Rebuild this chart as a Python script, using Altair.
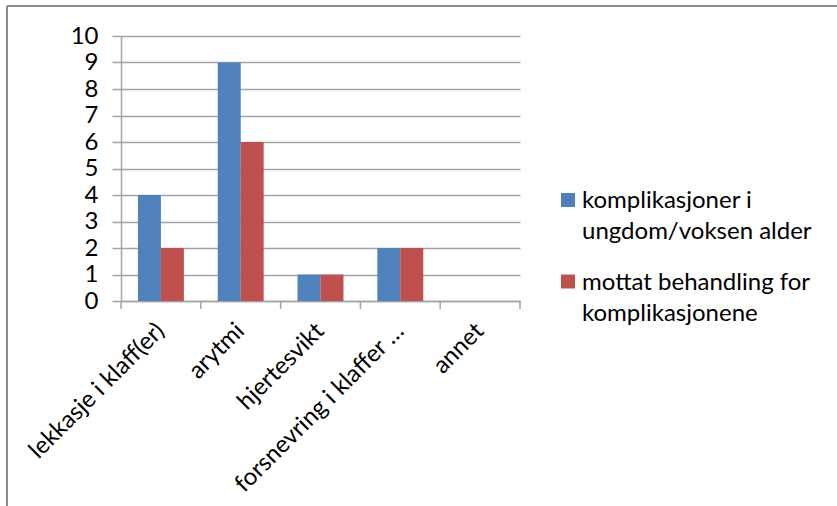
import altair as alt
import pandas as pd

categories = ["lekkasje i klaff(er)", "arytmi", "hjertesvikt", "forsnevring i klaffer …", "annet"]
series = ["komplikasjoner i|ungdom/voksen alder", "mottat behandling for|komplikasjonene"]
complications = [4, 9, 1, 2, 0]
treated = [2, 6, 1, 2, 0]
colors = ["#4F81BD", "#C0504D"]
y_ticks = list(range(0, 11))

rows = []
for c, a, b in zip(categories, complications, treated):
    rows.append({"kategori": c, "serie": series[0], "verdi": a})
    rows.append({"kategori": c, "serie": series[1], "verdi": b})
df = pd.DataFrame(rows)
cat_df = pd.DataFrame({"kategori": categories})

FONT = "Lato"
FS = 24
GRID = "#A3A3A3"
W, H = 399, 265
PAD_IN = 0.425
STEP = W / len(categories)

xscale = alt.Scale(domain=categories, paddingInner=PAD_IN, paddingOuter=PAD_IN / 2)
cscale = alt.Scale(domain=series, range=colors)
x_axis = alt.Axis(
    title=None,
    labelAngle=-45,
    labelAlign="right",
    labelBaseline="middle",
    labelFontSize=24,
    labelFont=FONT,
    labelColor="#000000",
    labelLimit=0,
    labelPadding=26,
    ticks=False,
    tickSize=0,
    domainColor=GRID,
    domainWidth=1.5,
    grid=False,
)

bars = alt.Chart(df).mark_bar(size=23).encode(
    x=alt.X("kategori:N", sort=categories, scale=xscale, axis=x_axis),
    xOffset=alt.XOffset("serie:N", sort=series, scale=alt.Scale(paddingInner=0, paddingOuter=0)),
    y=alt.Y(
        "verdi:Q",
        scale=alt.Scale(domain=[0, 10], nice=False),
        axis=alt.Axis(
            title=None,
            values=y_ticks,
            labelFontSize=FS,
            labelFont=FONT,
            labelColor="#000000",
            labelPadding=14,
            tickSize=9,
            tickColor=GRID,
            tickWidth=1.5,
            domainColor=GRID,
            domainWidth=1.5,
            gridColor=GRID,
            gridWidth=1.5,
        ),
    ),
    color=alt.Color("serie:N", sort=series, scale=cscale, legend=None),
)

# category tick marks at the band boundaries (Excel style)
xticks = alt.Chart(cat_df).mark_rule(color=GRID, strokeWidth=1.5, xOffset=-STEP * PAD_IN / 2).encode(
    x=alt.X("kategori:N", sort=categories, scale=xscale, bandPosition=0, axis=x_axis),
    y=alt.value(H),
    y2=alt.value(H + 8),
)

one = pd.DataFrame({"a": [0]})
last_tick = alt.Chart(one).mark_rule(color=GRID, strokeWidth=1.5).encode(
    x=alt.value(W), y=alt.value(H), y2=alt.value(H + 8)
)
top_border = alt.Chart(one).mark_rule(color="#8C8C8C", strokeWidth=2).encode(
    x=alt.value(-114), x2=alt.value(716), y=alt.value(-30)
)
left_border = alt.Chart(one).mark_rule(color="#8C8C8C", strokeWidth=2).encode(
    x=alt.value(-114), y=alt.value(-30), y2=alt.value(470)
)

# legend (Excel style, multi-line labels)
legend_layers = []
for i, s in enumerate(series):
    sdf = pd.DataFrame({"serie": [s]})
    legend_layers.append(
        alt.Chart(sdf).mark_square(size=196, opacity=1).encode(
            x=alt.value(447),
            y=alt.value(164 + i * 81.5),
            color=alt.Color("serie:N", scale=cscale, legend=None),
        )
    )
    legend_layers.append(
        alt.Chart(sdf).mark_text(
            align="left", baseline="alphabetic", lineBreak="|", lineHeight=31,
            font=FONT, fontSize=FS, color="#000000",
        ).encode(
            x=alt.value(461),
            y=alt.value(172 + i * 82),
            text="serie:N",
        )
    )

chart = alt.layer(bars, xticks, last_tick, top_border, left_border, *legend_layers).properties(
    width=W,
    height=H,
    autosize=alt.AutoSizeParams(type="none"),
    padding={"left": 121, "top": 36, "right": 317, "bottom": 205},
    background="#FFFFFF",
).configure_view(stroke=None)

chart.save("out.html", embed_options={"renderer": "svg", "actions": False})
